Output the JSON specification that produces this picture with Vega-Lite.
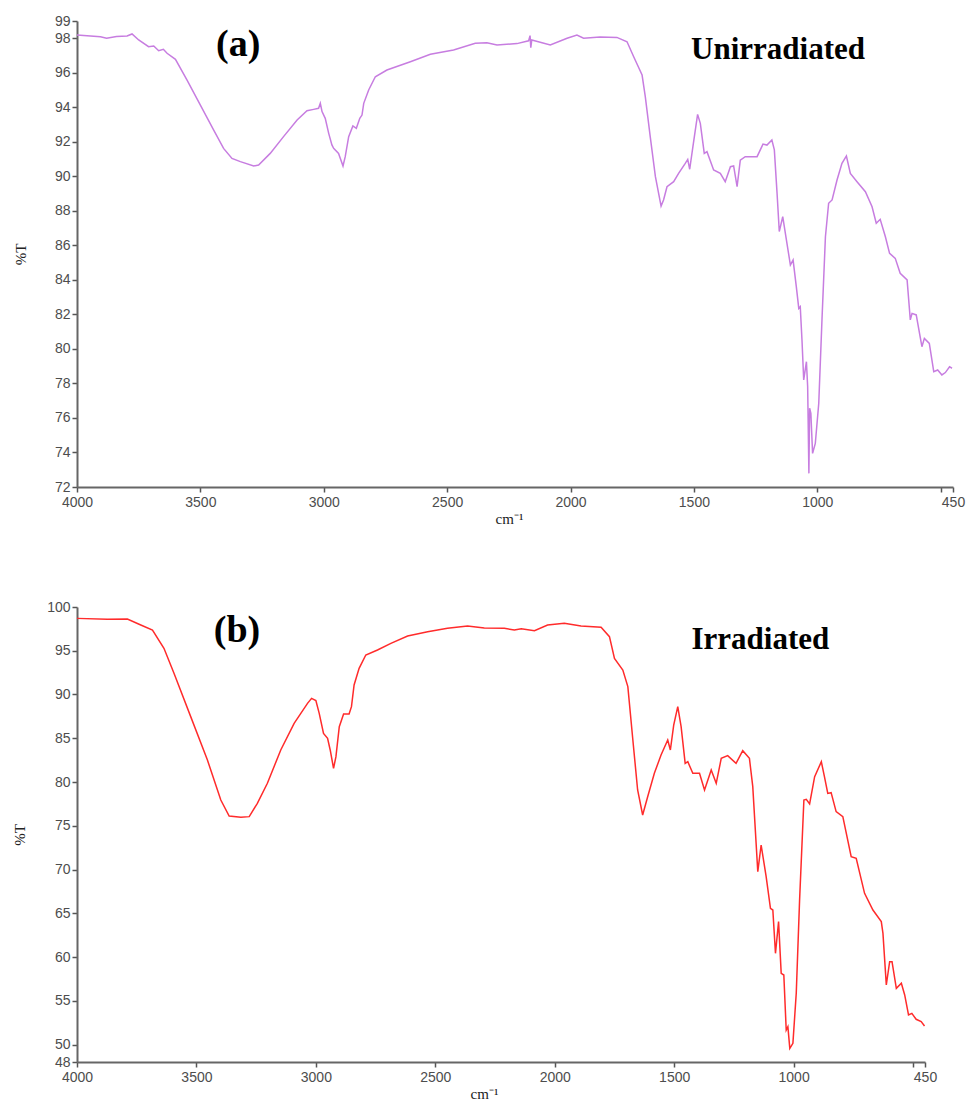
{
  "$schema": "https://vega.github.io/schema/vega-lite/v6.json",
  "background": "white",
  "padding": {"top": 14, "left": 12, "right": 5, "bottom": 5},
  "bounds": "flush",
  "spacing": 120,
  "config": {
    "view": {"stroke": null},
    "axis": {
      "grid": false,
      "domainColor": "#666666",
      "domainWidth": 2,
      "tickColor": "#555555",
      "tickWidth": 1.5,
      "tickSize": 5,
      "labelFont": "Liberation Sans",
      "labelFontSize": 14,
      "labelColor": "#4d4d4d",
      "labelOverlap": false,
      "titleFont": "Liberation Serif",
      "titleFontWeight": "normal",
      "titleFontSize": 15,
      "titleColor": "#222222"
    }
  },
  "datasets": {
    "a": [
      {"w": 4000, "t": 98.19}, {"w": 3905, "t": 98.09}, {"w": 3880, "t": 98.0}, {"w": 3840, "t": 98.1}, {"w": 3797, "t": 98.13}, {"w": 3777, "t": 98.25},
      {"w": 3750, "t": 97.9}, {"w": 3710, "t": 97.51}, {"w": 3689, "t": 97.55}, {"w": 3669, "t": 97.28}, {"w": 3650, "t": 97.36}, {"w": 3635, "t": 97.13},
      {"w": 3601, "t": 96.78}, {"w": 3554, "t": 95.58}, {"w": 3500, "t": 94.13}, {"w": 3446, "t": 92.68}, {"w": 3406, "t": 91.62}, {"w": 3372, "t": 91.04},
      {"w": 3338, "t": 90.85}, {"w": 3284, "t": 90.6}, {"w": 3264, "t": 90.66}, {"w": 3217, "t": 91.33}, {"w": 3163, "t": 92.3}, {"w": 3108, "t": 93.26},
      {"w": 3068, "t": 93.8}, {"w": 3041, "t": 93.88}, {"w": 3021, "t": 93.94}, {"w": 3014, "t": 94.23}, {"w": 3007, "t": 93.75}, {"w": 2994, "t": 93.36},
      {"w": 2980, "t": 92.49}, {"w": 2967, "t": 91.82}, {"w": 2960, "t": 91.62}, {"w": 2940, "t": 91.33}, {"w": 2922, "t": 90.6}, {"w": 2913, "t": 91.14},
      {"w": 2899, "t": 92.3}, {"w": 2882, "t": 92.92}, {"w": 2868, "t": 92.78}, {"w": 2854, "t": 93.36}, {"w": 2845, "t": 93.55}, {"w": 2838, "t": 94.23},
      {"w": 2818, "t": 95.0}, {"w": 2791, "t": 95.77}, {"w": 2744, "t": 96.16}, {"w": 2649, "t": 96.64}, {"w": 2568, "t": 97.07}, {"w": 2474, "t": 97.32},
      {"w": 2386, "t": 97.71}, {"w": 2339, "t": 97.74}, {"w": 2298, "t": 97.61}, {"w": 2217, "t": 97.69}, {"w": 2170, "t": 97.85}, {"w": 2164, "t": 98.15},
      {"w": 2161, "t": 97.45}, {"w": 2157, "t": 97.9}, {"w": 2082, "t": 97.61}, {"w": 2014, "t": 98.0}, {"w": 1974, "t": 98.19}, {"w": 1947, "t": 98.0},
      {"w": 1880, "t": 98.08}, {"w": 1812, "t": 98.05}, {"w": 1771, "t": 97.8}, {"w": 1744, "t": 96.93}, {"w": 1710, "t": 95.87}, {"w": 1697, "t": 94.62},
      {"w": 1677, "t": 92.3}, {"w": 1656, "t": 89.98}, {"w": 1633, "t": 88.28}, {"w": 1623, "t": 88.63}, {"w": 1609, "t": 89.4}, {"w": 1582, "t": 89.69},
      {"w": 1562, "t": 90.17}, {"w": 1535, "t": 90.75}, {"w": 1525, "t": 90.98}, {"w": 1517, "t": 90.41}, {"w": 1504, "t": 91.72}, {"w": 1485, "t": 93.59},
      {"w": 1474, "t": 93.07}, {"w": 1458, "t": 91.33}, {"w": 1447, "t": 91.43}, {"w": 1420, "t": 90.37}, {"w": 1393, "t": 90.17}, {"w": 1373, "t": 89.69},
      {"w": 1352, "t": 90.56}, {"w": 1339, "t": 90.6}, {"w": 1325, "t": 89.4}, {"w": 1312, "t": 90.94}, {"w": 1292, "t": 91.14}, {"w": 1244, "t": 91.14},
      {"w": 1220, "t": 91.87}, {"w": 1204, "t": 91.81}, {"w": 1184, "t": 92.1}, {"w": 1174, "t": 91.53}, {"w": 1163, "t": 89.02}, {"w": 1154, "t": 86.8},
      {"w": 1140, "t": 87.66}, {"w": 1125, "t": 86.31}, {"w": 1109, "t": 84.86}, {"w": 1098, "t": 85.15}, {"w": 1085, "t": 83.61}, {"w": 1075, "t": 82.35},
      {"w": 1069, "t": 82.45}, {"w": 1062, "t": 80.52}, {"w": 1055, "t": 78.2}, {"w": 1044, "t": 79.26}, {"w": 1039, "t": 77.81}, {"w": 1034, "t": 72.79},
      {"w": 1031, "t": 76.56}, {"w": 1026, "t": 76.27}, {"w": 1019, "t": 73.95}, {"w": 1008, "t": 74.53}, {"w": 994, "t": 76.85}, {"w": 981, "t": 81.68},
      {"w": 967, "t": 86.5}, {"w": 954, "t": 88.44}, {"w": 940, "t": 88.63}, {"w": 920, "t": 89.79}, {"w": 900, "t": 90.75}, {"w": 882, "t": 91.18},
      {"w": 866, "t": 90.17}, {"w": 839, "t": 89.69}, {"w": 805, "t": 89.11}, {"w": 778, "t": 88.24}, {"w": 761, "t": 87.28}, {"w": 745, "t": 87.51},
      {"w": 724, "t": 86.5}, {"w": 707, "t": 85.54}, {"w": 684, "t": 85.25}, {"w": 664, "t": 84.38}, {"w": 636, "t": 84.0}, {"w": 623, "t": 81.68},
      {"w": 616, "t": 82.06}, {"w": 599, "t": 81.97}, {"w": 576, "t": 80.13}, {"w": 566, "t": 80.61}, {"w": 546, "t": 80.32}, {"w": 528, "t": 78.68},
      {"w": 512, "t": 78.78}, {"w": 495, "t": 78.49}, {"w": 481, "t": 78.63}, {"w": 464, "t": 78.97}, {"w": 454, "t": 78.88}
    ],
    "b": [
      {"w": 4000, "t": 98.7}, {"w": 3873, "t": 98.6}, {"w": 3789, "t": 98.63}, {"w": 3733, "t": 97.94}, {"w": 3684, "t": 97.37}, {"w": 3636, "t": 95.28},
      {"w": 3594, "t": 92.42}, {"w": 3524, "t": 87.47}, {"w": 3454, "t": 82.51}, {"w": 3398, "t": 77.94}, {"w": 3363, "t": 76.11}, {"w": 3314, "t": 75.96},
      {"w": 3279, "t": 76.04}, {"w": 3245, "t": 77.56}, {"w": 3203, "t": 79.85}, {"w": 3147, "t": 83.66}, {"w": 3091, "t": 86.7}, {"w": 3035, "t": 88.99},
      {"w": 3018, "t": 89.56}, {"w": 3000, "t": 89.3}, {"w": 2986, "t": 87.85}, {"w": 2968, "t": 85.56}, {"w": 2951, "t": 84.99}, {"w": 2940, "t": 83.66},
      {"w": 2926, "t": 81.56}, {"w": 2916, "t": 82.9}, {"w": 2902, "t": 86.32}, {"w": 2884, "t": 87.77}, {"w": 2861, "t": 87.77}, {"w": 2851, "t": 88.61},
      {"w": 2840, "t": 91.09}, {"w": 2819, "t": 92.99}, {"w": 2791, "t": 94.51}, {"w": 2742, "t": 95.09}, {"w": 2686, "t": 95.85}, {"w": 2616, "t": 96.69},
      {"w": 2532, "t": 97.18}, {"w": 2449, "t": 97.56}, {"w": 2365, "t": 97.83}, {"w": 2295, "t": 97.6}, {"w": 2211, "t": 97.56}, {"w": 2169, "t": 97.37},
      {"w": 2140, "t": 97.5}, {"w": 2085, "t": 97.3}, {"w": 2030, "t": 97.94}, {"w": 1960, "t": 98.13}, {"w": 1890, "t": 97.83}, {"w": 1806, "t": 97.68},
      {"w": 1771, "t": 96.61}, {"w": 1750, "t": 94.13}, {"w": 1715, "t": 92.8}, {"w": 1694, "t": 90.9}, {"w": 1673, "t": 84.8}, {"w": 1653, "t": 79.09},
      {"w": 1632, "t": 76.23}, {"w": 1611, "t": 78.32}, {"w": 1583, "t": 80.99}, {"w": 1555, "t": 83.09}, {"w": 1527, "t": 84.8}, {"w": 1516, "t": 83.66},
      {"w": 1502, "t": 86.51}, {"w": 1485, "t": 88.61}, {"w": 1471, "t": 86.32}, {"w": 1454, "t": 82.13}, {"w": 1443, "t": 82.32}, {"w": 1422, "t": 80.99},
      {"w": 1394, "t": 80.99}, {"w": 1373, "t": 79.09}, {"w": 1345, "t": 81.37}, {"w": 1324, "t": 79.85}, {"w": 1303, "t": 82.7}, {"w": 1276, "t": 83.01},
      {"w": 1241, "t": 82.13}, {"w": 1213, "t": 83.58}, {"w": 1185, "t": 82.7}, {"w": 1171, "t": 79.47}, {"w": 1150, "t": 69.75}, {"w": 1136, "t": 72.8},
      {"w": 1115, "t": 69.18}, {"w": 1097, "t": 65.56}, {"w": 1087, "t": 65.37}, {"w": 1076, "t": 60.42}, {"w": 1063, "t": 64.04}, {"w": 1052, "t": 58.13},
      {"w": 1041, "t": 57.94}, {"w": 1031, "t": 51.66}, {"w": 1024, "t": 52.04}, {"w": 1016, "t": 49.56}, {"w": 1003, "t": 50.13}, {"w": 989, "t": 55.85},
      {"w": 975, "t": 66.51}, {"w": 957, "t": 77.94}, {"w": 947, "t": 78.02}, {"w": 933, "t": 77.49}, {"w": 912, "t": 80.61}, {"w": 884, "t": 82.32},
      {"w": 871, "t": 80.61}, {"w": 857, "t": 78.7}, {"w": 843, "t": 78.78}, {"w": 822, "t": 76.61}, {"w": 794, "t": 76.04}, {"w": 759, "t": 71.47},
      {"w": 738, "t": 71.28}, {"w": 703, "t": 67.28}, {"w": 668, "t": 65.37}, {"w": 633, "t": 64.04}, {"w": 626, "t": 62.7}, {"w": 612, "t": 56.8},
      {"w": 598, "t": 59.47}, {"w": 588, "t": 59.47}, {"w": 570, "t": 56.42}, {"w": 549, "t": 57.0}, {"w": 535, "t": 55.66}, {"w": 519, "t": 53.37},
      {"w": 505, "t": 53.56}, {"w": 487, "t": 52.88}, {"w": 466, "t": 52.61}, {"w": 452, "t": 52.11}
    ]
  },
  "vconcat": [
    {
      "width": 876,
      "height": 466,
      "encoding": {
        "x": {"field": "w", "type": "quantitative", "scale": {"domain": [4000, 450], "nice": false, "zero": false},
          "axis": {"values": [4000, 3500, 3000, 2500, 2000, 1500, 1000, 500, 450], "format": "d", "labelOverlap": false, "labelExpr": "datum.value == 500 ? '' : datum.label", "title": "cm⁻¹", "titleX": 432, "titlePadding": 2, "labelPadding": 3, "labelFlush": false}},
        "y": {"field": "t", "type": "quantitative", "scale": {"domain": [72, 99], "nice": false, "zero": false},
          "axis": {"values": [72, 74, 76, 78, 80, 82, 84, 86, 88, 90, 92, 94, 96, 98, 99], "format": "d", "labelOverlap": false, "title": "%T", "titlePadding": 26, "labelPadding": 2}}
      },
      "layer": [
        {
          "data": {"name": "a"},
          "mark": {"type": "line", "color": "#c77de0", "strokeWidth": 1.5, "interpolate": "linear"}
        },
        {
          "data": {"values": [{"w": 3347, "t": 97.6, "label": "(a)"}]},
          "mark": {"type": "text", "font": "Liberation Serif", "fontWeight": "bold", "fontSize": 38, "color": "black", "baseline": "middle", "align": "center"},
          "encoding": {"text": {"field": "label"}}
        },
        {
          "data": {"values": [{"w": 1159, "t": 97.3, "label": "Unirradiated"}]},
          "mark": {"type": "text", "font": "Liberation Serif", "fontWeight": "bold", "fontSize": 31, "color": "black", "baseline": "middle", "align": "center"},
          "encoding": {"text": {"field": "label"}}
        }
      ]
    },
    {
      "width": 848,
      "height": 455,
      "encoding": {
        "x": {"field": "w", "type": "quantitative", "scale": {"domain": [4000, 450], "nice": false, "zero": false},
          "axis": {"values": [4000, 3500, 3000, 2500, 2000, 1500, 1000, 500, 450], "format": "d", "labelOverlap": false, "labelExpr": "datum.value == 500 ? '' : datum.label", "title": "cm⁻¹", "titleX": 407, "titlePadding": 2, "labelPadding": 3, "labelFlush": false}},
        "y": {"field": "t", "type": "quantitative", "scale": {"domain": [48, 100], "nice": false, "zero": false},
          "axis": {"values": [48, 50, 55, 60, 65, 70, 75, 80, 85, 90, 95, 100], "format": "d", "labelOverlap": false, "title": "%T", "titlePadding": 19, "labelPadding": 2}}
      },
      "layer": [
        {
          "data": {"name": "b"},
          "mark": {"type": "line", "color": "#ff2b2b", "strokeWidth": 1.5, "interpolate": "linear"}
        },
        {
          "data": {"values": [{"w": 3330, "t": 97.25, "label": "(b)"}]},
          "mark": {"type": "text", "font": "Liberation Serif", "fontWeight": "bold", "fontSize": 38, "color": "black", "baseline": "middle", "align": "center"},
          "encoding": {"text": {"field": "label"}}
        },
        {
          "data": {"values": [{"w": 1139, "t": 96.2, "label": "Irradiated"}]},
          "mark": {"type": "text", "font": "Liberation Serif", "fontWeight": "bold", "fontSize": 31, "color": "black", "baseline": "middle", "align": "center"},
          "encoding": {"text": {"field": "label"}}
        }
      ]
    }
  ]
}
